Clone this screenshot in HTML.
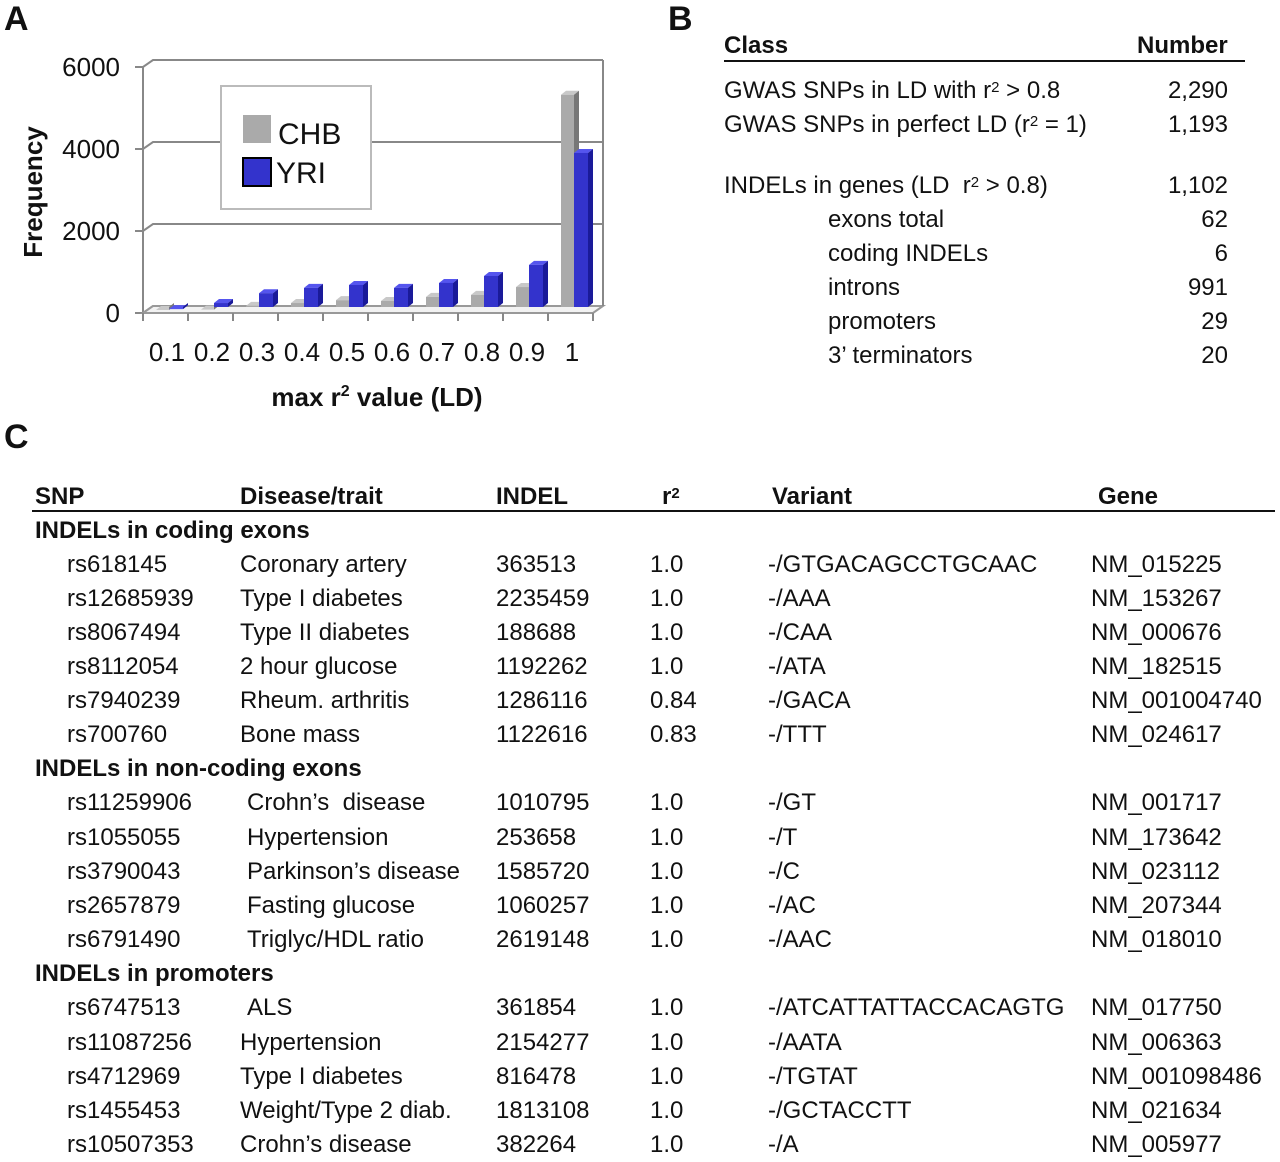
<!DOCTYPE html>
<html><head><meta charset="utf-8"><style>
body{margin:0;background:#fff;}
#root{position:relative;width:1280px;height:1162px;overflow:hidden;font-family:"Liberation Sans",Arial,sans-serif;color:#111;}
.t{position:absolute;white-space:nowrap;font-size:24px;line-height:28px;height:28px;}
.b{font-weight:bold;}
.r{text-align:right;}
.lbl{position:absolute;font-weight:bold;font-size:34px;line-height:34px;}
sup{font-size:15px;vertical-align:top;position:relative;top:-3px;}
</style></head><body>
<div id="root">
<div class="lbl" style="left:4px;top:2px">A</div>
<div class="lbl" style="left:668px;top:2px">B</div>
<div class="lbl" style="left:4px;top:420px">C</div>

<svg id="chart" width="660" height="420" style="position:absolute;left:0;top:0"></svg>

<div id="panelB"></div>
<div id="panelC"></div>
</div>
<script>
const categories=["0.1","0.2","0.3","0.4","0.5","0.6","0.7","0.8","0.9","1"];
const chbValues=[0,10,100,170,240,220,320,370,560,5250];
const yriValues=[20,170,410,540,610,540,660,830,1100,3830];
const yTicks=[0,2000,4000,6000];
const NS="http://www.w3.org/2000/svg";
const svg=document.getElementById('chart');
function mk(tag,attrs,parent){const e=document.createElementNS(NS,tag);for(const k in attrs)e.setAttribute(k,attrs[k]);(parent||svg).appendChild(e);return e;}
const x0=143,step=45,base=313,dx=10,dy=-7;
const yScale=v=>base-v*82/2000;
const xCat=i=>x0+i*step;
yTicks.forEach(t=>{
  const y=yScale(t);
  const g=mk('polyline',{points:`${x0-8},${y} ${x0},${y} ${x0+dx},${y+dy} ${x0+460},${y+dy}`,fill:'none',stroke:'#888','stroke-width':2});
  
  
  const tx=mk('text',{x:120,y:y+9,'text-anchor':'end','font-size':26,'font-family':'Liberation Sans, sans-serif',fill:'#111'});
  tx.textContent=t;
  
  
});
const ya=mk('line',{x1:x0,y1:yScale(6000),x2:x0,y2:base+2,stroke:'#888','stroke-width':2});


const floor=mk('polygon',{points:`${x0},${base} ${x0+dx},${base+dy} ${x0+460},${base+dy} ${x0+450},${base}`,fill:'#f2f2f2',stroke:'#999','stroke-width':2});


const bl=mk('line',{x1:x0+460,y1:yScale(6000)+dy,x2:x0+460,y2:base+dy,stroke:'#888','stroke-width':2});


for(let i=0;i<=10;i++){
  const tk=mk('line',{x1:xCat(i),y1:base,x2:xCat(i),y2:base+8,stroke:'#888','stroke-width':2});
  
  
}
function bar(x,v,w,front,top,side,name){
  const y=yScale(v),h=base-3-y,bx=x,by=y-3;
  const g=mk('g',{});
  
  
  mk('polygon',{points:`${bx},${by} ${bx+5},${by-4} ${bx+w+5},${by-4} ${bx+w},${by}`,fill:top},g);
  mk('polygon',{points:`${bx+w},${by} ${bx+w+5},${by-4} ${bx+w+5},${by+h-4} ${bx+w},${by+h}`,fill:side},g);
  mk('rect',{x:bx,y:by,width:w,height:Math.max(h,0),fill:front},g);
}
categories.forEach((c,i)=>{
  const cx=xCat(i);
  bar(cx+13,chbValues[i],13,'#aaaaaa','#c8c8c8','#777','bar-chb-'+c);
  bar(cx+26,yriValues[i],14,'#3333cc','#5555ee','#1a1a99','bar-yri-'+c);
  const tx=mk('text',{x:cx+24,y:361,'text-anchor':'middle','font-size':26,'font-family':'Liberation Sans, sans-serif',fill:'#111'});
  tx.textContent=c;
  
  
});
const lg=mk('g',{});


mk('rect',{x:221,y:86,width:150,height:123,fill:'#fff',stroke:'#bbb','stroke-width':2},lg);
mk('rect',{x:243,y:115,width:28,height:28,fill:'#aaa'},lg);
mk('rect',{x:243,y:158,width:28,height:28,fill:'#3333cc',stroke:'#000','stroke-width':2},lg);
const l1=mk('text',{x:278,y:144,'font-size':30,'font-family':'Liberation Sans, sans-serif',fill:'#111'},lg);l1.textContent='CHB';


const l2=mk('text',{x:276,y:183,'font-size':30,'font-family':'Liberation Sans, sans-serif',fill:'#111'},lg);l2.textContent='YRI';


const yt=mk('text',{x:0,y:0,transform:'translate(42,192) rotate(-90)','text-anchor':'middle','font-size':26,'font-weight':'bold','font-family':'Liberation Sans, sans-serif',fill:'#111'});
yt.textContent='Frequency';


const xt=mk('text',{x:377,y:406,'text-anchor':'middle','font-size':26,'font-weight':'bold','font-family':'Liberation Sans, sans-serif',fill:'#111'});
xt.innerHTML='max r<tspan dy="-10" font-size="16">2</tspan><tspan dy="10"> value (LD)</tspan>';



const root=document.getElementById('root');
function txt(parent,html,left,cy,cls,name,right){
  const d=document.createElement('div');
  d.className='t '+(cls||'');
  d.innerHTML=html;
  d.style.top=(cy-14)+'px';
  if(right!==undefined){d.style.right=(1280-right)+'px';}else d.style.left=left+'px';
  
  
  root.appendChild(d);
}
function hline(x1,x2,y,name){
  const d=document.createElement('div');
  d.style.cssText=`position:absolute;left:${x1}px;top:${y}px;width:${x2-x1}px;height:2px;background:#111`;
  
  
  root.appendChild(d);
}
txt(0,'Class',724,46,'b','class-header');
txt(0,'Number',1137,46,'b','number-header');
hline(724,1245,60,'header-rule-b');
const bRows=[
 ['GWAS SNPs in LD with r<sup>2</sup> &gt; 0.8',724,91,'2,290'],
 ['GWAS SNPs in perfect LD (r<sup>2</sup> = 1)',724,125,'1,193'],
 ['INDELs in genes (LD&nbsp; r<sup>2</sup> &gt; 0.8)',724,186,'1,102'],
 ['exons total',828,220,'62'],
 ['coding INDELs',828,254,'6'],
 ['introns',828,288,'991'],
 ['promoters',828,322,'29'],
 ['3\u2019 terminators',828,356,'20']];
bRows.forEach(r=>{txt(0,r[0],r[1],r[2],'','class-label');txt(0,r[3],0,r[2],'r','class-count',1228);});
txt(0,'SNP',35,497,'b','snp-header');
txt(0,'Disease/trait',240,497,'b','disease-header');
txt(0,'INDEL',496,497,'b','indel-header');
txt(0,'r<sup>2</sup>',662,497,'b','r2-header');
txt(0,'Variant',772,497,'b','variant-header');
txt(0,'Gene',1098,497,'b','gene-header');
hline(32,1275,510,'header-rule-c');
const cRows=[
 ['S','INDELs in coding exons',531],
 ['rs618145','Coronary artery','363513','1.0','-/GTGACAGCCTGCAAC','NM_015225',565,240],
 ['rs12685939','Type I diabetes','2235459','1.0','-/AAA','NM_153267',599,240],
 ['rs8067494','Type II diabetes','188688','1.0','-/CAA','NM_000676',633,240],
 ['rs8112054','2 hour glucose','1192262','1.0','-/ATA','NM_182515',667,240],
 ['rs7940239','Rheum. arthritis','1286116','0.84','-/GACA','NM_001004740',701,240],
 ['rs700760','Bone mass','1122616','0.83','-/TTT','NM_024617',735,240],
 ['S','INDELs in non-coding exons',769],
 ['rs11259906','Crohn\u2019s&nbsp; disease','1010795','1.0','-/GT','NM_001717',803,247],
 ['rs1055055','Hypertension','253658','1.0','-/T','NM_173642',838,247],
 ['rs3790043','Parkinson\u2019s disease','1585720','1.0','-/C','NM_023112',872,247],
 ['rs2657879','Fasting glucose','1060257','1.0','-/AC','NM_207344',906,247],
 ['rs6791490','Triglyc/HDL ratio','2619148','1.0','-/AAC','NM_018010',940,247],
 ['S','INDELs in promoters',974],
 ['rs6747513','ALS','361854','1.0','-/ATCATTATTACCACAGTG','NM_017750',1008,247],
 ['rs11087256','Hypertension','2154277','1.0','-/AATA','NM_006363',1043,240],
 ['rs4712969','Type I diabetes','816478','1.0','-/TGTAT','NM_001098486',1077,240],
 ['rs1455453','Weight/Type 2 diab.','1813108','1.0','-/GCTACCTT','NM_021634',1111,240],
 ['rs10507353','Crohn\u2019s disease','382264','1.0','-/A','NM_005977',1145,240]];
cRows.forEach(r=>{
  if(r[0]==='S'){txt(0,r[1],35,r[2],'b','section-heading');return;}
  const y=r[6];
  txt(0,r[0],67,y,'','snp-id');
  txt(0,r[1],r[7],y,'','disease');
  txt(0,r[2],496,y,'','indel-id');
  txt(0,r[3],650,y,'','r2-value');
  txt(0,r[4],768,y,'','variant');
  txt(0,r[5],1091,y,'','gene');
});
</script>
</body></html>
